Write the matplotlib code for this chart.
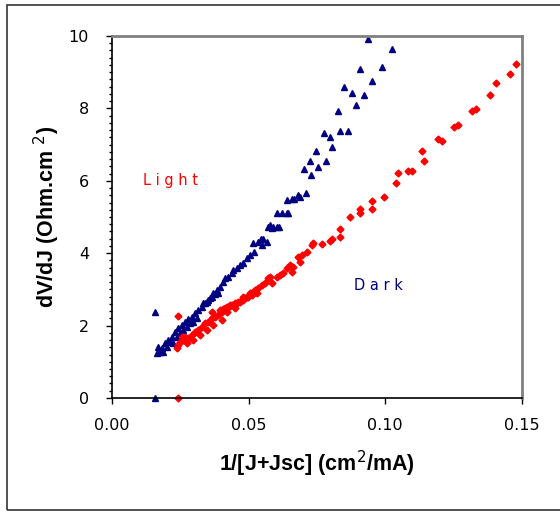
import numpy as np
import matplotlib
matplotlib.use("Agg")
import matplotlib.pyplot as plt
from matplotlib.patches import Rectangle
from matplotlib.ticker import MultipleLocator, FormatStrFormatter

# navy triangles (left curve)
light_x = [0.0159, 0.0157, 0.0163, 0.0176, 0.0182, 0.0194, 0.0206, 0.0218, 0.0231, 0.0243,
           0.0255, 0.0267, 0.0279, 0.0292, 0.0304, 0.0316, 0.0328, 0.0340, 0.0352, 0.0365,
           0.0377, 0.0389, 0.0169, 0.0188, 0.0200, 0.0212, 0.0224, 0.0237, 0.0249, 0.0261,
           0.0273, 0.0285, 0.0297, 0.0310, 0.0334, 0.0346, 0.0359, 0.0371, 0.0383, 0.0395,
           0.0407, 0.0413, 0.0426, 0.0438, 0.0444, 0.0456, 0.0468, 0.0478, 0.0493, 0.0505,
           0.0521, 0.0517, 0.0535, 0.0554, 0.0566, 0.0548, 0.0545, 0.0572, 0.0578, 0.0584,
           0.0603, 0.0590, 0.0610, 0.0603, 0.0621, 0.0643, 0.0641, 0.0639, 0.0665, 0.0658,
           0.0679, 0.0687, 0.0709, 0.0730, 0.0701, 0.0753, 0.0723, 0.0782, 0.0745, 0.0804,
           0.0797, 0.0775, 0.0833, 0.0862, 0.0826, 0.0892, 0.0921, 0.0877, 0.0848, 0.0950,
           0.0987, 0.0906, 0.1023, 0.0936]
light_y = [0.00, 2.38, 1.23, 1.28, 1.37, 1.51, 1.60, 1.69, 1.83, 1.93,
           2.02, 2.11, 2.17, 2.25, 2.34, 2.43, 2.52, 2.62, 2.71, 2.80,
           2.87, 2.91, 1.42, 1.28, 1.42, 1.56, 1.51, 1.69, 1.79, 1.88,
           1.97, 2.06, 2.11, 2.20, 2.62, 2.66, 2.75, 2.89, 2.98, 3.07,
           3.21, 3.31, 3.35, 3.44, 3.54, 3.60, 3.67, 3.72, 3.86, 3.95,
           4.04, 4.29, 4.32, 4.38, 4.32, 4.23, 4.39, 4.72, 4.78, 4.69,
           4.73, 4.72, 4.72, 5.10, 5.10, 5.12, 5.12, 5.47, 5.51, 5.51,
           5.62, 5.56, 5.66, 6.16, 6.33, 6.39, 6.56, 6.56, 6.82, 6.93,
           7.22, 7.33, 7.38, 7.38, 7.94, 8.09, 8.37, 8.43, 8.59, 8.76,
           9.15, 9.09, 9.64, 9.92]

# red diamonds (right curve)
dark_x = [0.0240, 0.0243, 0.0237, 0.0243, 0.0249, 0.0261, 0.0267, 0.0279, 0.0292, 0.0304,
          0.0316, 0.0328, 0.0340, 0.0352, 0.0365, 0.0377, 0.0389, 0.0401, 0.0413, 0.0426,
          0.0438, 0.0450, 0.0462, 0.0475, 0.0487, 0.0499, 0.0511, 0.0255, 0.0273, 0.0297,
          0.0322, 0.0346, 0.0371, 0.0401, 0.0365, 0.0395, 0.0450, 0.0420, 0.0432, 0.0480,
          0.0529, 0.0407, 0.0420, 0.0432, 0.0444, 0.0456, 0.0468, 0.0480, 0.0493, 0.0505,
          0.0517, 0.0523, 0.0535, 0.0548, 0.0560, 0.0584, 0.0572, 0.0578, 0.0603, 0.0615,
          0.0627, 0.0657, 0.0639, 0.0651, 0.0663, 0.0688, 0.0682, 0.0694, 0.0712, 0.0731,
          0.0737, 0.0767, 0.0797, 0.0804, 0.0833, 0.0833, 0.0870, 0.0906, 0.0906, 0.0950,
          0.0950, 0.0994, 0.1038, 0.1045, 0.1082, 0.1097, 0.1140, 0.1133, 0.1192, 0.1206,
          0.1250, 0.1265, 0.1316, 0.1331, 0.1382, 0.1404, 0.1455, 0.1477]
dark_y = [0.00, 2.27, 1.37, 1.46, 1.56, 1.60, 1.69, 1.65, 1.74, 1.83,
          1.88, 1.97, 2.06, 2.11, 2.20, 2.25, 2.29, 2.38, 2.48, 2.52,
          2.57, 2.62, 2.66, 2.71, 2.75, 2.80, 2.85, 1.69, 1.51, 1.60,
          1.74, 1.88, 2.02, 2.15, 2.38, 2.43, 2.48, 2.38, 2.57, 2.80,
          2.91, 2.45, 2.51, 2.54, 2.57, 2.62, 2.66, 2.71, 2.80, 2.89,
          2.94, 2.98, 3.03, 3.12, 3.17, 3.17, 3.31, 3.35, 3.35, 3.40,
          3.44, 3.49, 3.58, 3.67, 3.63, 3.77, 3.90, 3.95, 4.04, 4.23,
          4.27, 4.25, 4.34, 4.39, 4.45, 4.67, 4.99, 5.12, 5.23, 5.23,
          5.45, 5.56, 5.95, 6.22, 6.28, 6.28, 6.56, 6.83, 7.16, 7.11,
          7.49, 7.55, 7.94, 7.99, 8.38, 8.71, 8.94, 9.22]

fig = plt.figure(figsize=(5.6, 5.12), dpi=100)
ax = fig.add_axes([0.2, 0.2227, 0.732, 0.707])

ax.plot(light_x, light_y, ls="none", marker="^", ms=5, color="#000080", clip_on=False)
ax.plot(dark_x, dark_y, ls="none", marker="D", ms=3.5, color="#ff0000", clip_on=False)

ax.set_xlim(0, 0.15)
ax.set_ylim(0, 10)
ax.xaxis.set_major_locator(MultipleLocator(0.05))
ax.yaxis.set_major_locator(MultipleLocator(2))
ax.yaxis.set_minor_locator(MultipleLocator(0.2))
ax.xaxis.set_major_formatter(FormatStrFormatter("%.2f"))
ax.yaxis.set_major_formatter(FormatStrFormatter("%d"))

ax.tick_params(axis="both", which="major", direction="out", length=4.5, width=1,
               labelsize=11.5, top=False, right=False)
ax.tick_params(axis="x", which="major", pad=10)
ax.tick_params(axis="y", which="major", pad=12)
ax.tick_params(axis="y", which="minor", direction="out", length=2.5, width=1)
for s in ["top", "right"]:
    ax.spines[s].set_color("#808080")
    ax.spines[s].set_linewidth(2)
for s in ["left", "bottom"]:
    ax.spines[s].set_color("black")
    ax.spines[s].set_linewidth(1.2)

ax.set_xlabel("1/[J+Jsc] (cm$^{2}$/mA)", fontsize=15.5, fontweight="bold",
              family="Liberation Sans", labelpad=11)
ax.set_ylabel("dV/dJ (Ohm.cm $^{2}$)", fontsize=15.5, fontweight="bold",
              family="Liberation Sans", labelpad=5)

ax.text(0.0215, 6.0, "L i g h t", color="#ff0000", fontsize=10.5, ha="center", va="center")
ax.text(0.0975, 3.1, "D a r k", color="#000080", fontsize=10.5, ha="center", va="center")

fig.patches.append(Rectangle((7 / 560, 2 / 512), 1.0, 505 / 512, transform=fig.transFigure,
                             fill=False, edgecolor="#333333", linewidth=1.2))

fig.savefig("out.png", dpi=100)
